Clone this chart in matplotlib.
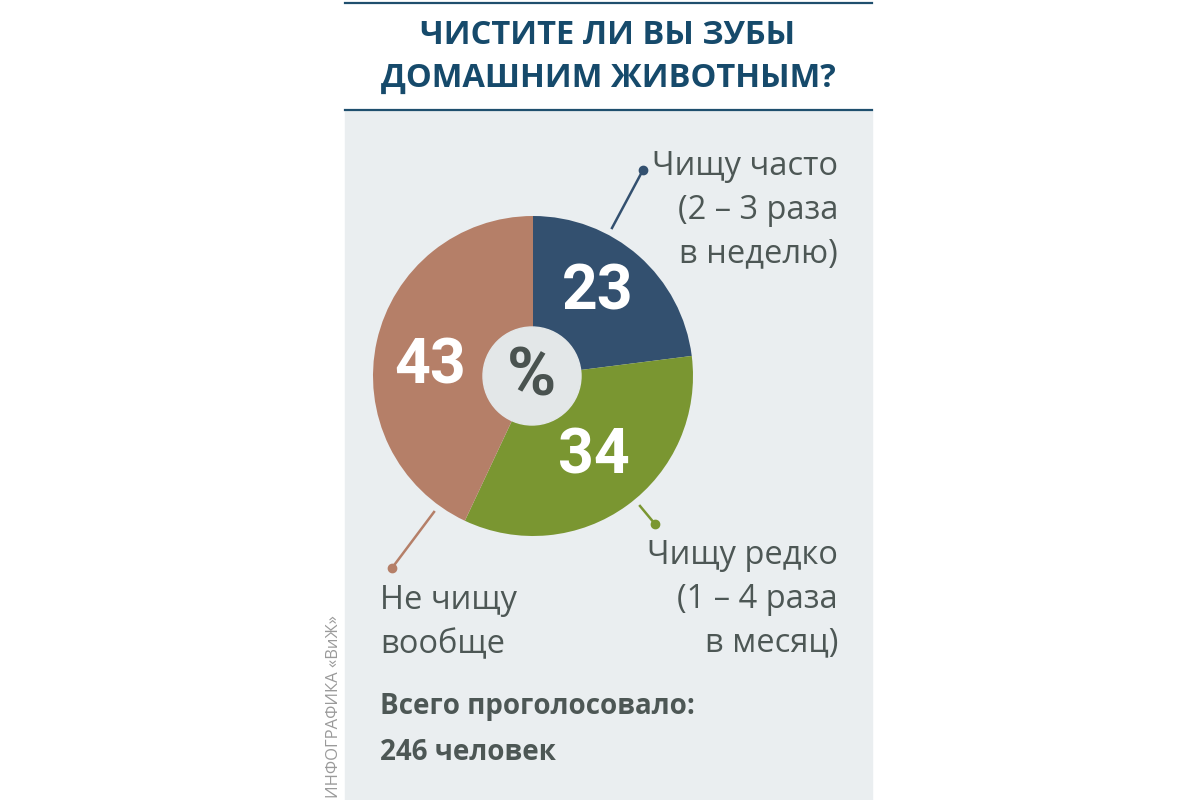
import matplotlib.pyplot as plt
from matplotlib.patches import Rectangle, Circle

# data
shares = [23, 34, 43]
colors = ['#33506f', '#7a9631', '#b57f68']
labels = ['Чищу часто\n(2 – 3 раза\nв неделю)',
          'Чищу редко\n(1 – 4 раза\nв месяц)',
          'Не чищу\nвообще']
title = 'ЧИСТИТЕ ЛИ ВЫ ЗУБЫ\nДОМАШНИМ ЖИВОТНЫМ?'
total_text = 'Всего проголосовало:\n246 человек'
credit = 'ИНФОГРАФИКА «ВиЖ»'

H = 800
fig = plt.figure(figsize=(12, 8), dpi=100)
ax = fig.add_axes([0, 0, 1, 1])
ax.set_xlim(0, 1200)
ax.set_ylim(0, H)
ax.set_aspect('equal')
ax.axis('off')

def Y(y):
    return H - y

# panel and rules
ax.add_patch(Rectangle((345, 0), 527, Y(110), color='#eaeef0', zorder=0))
ax.plot([345, 872], [Y(3), Y(3)], color='#1f4f6e', lw=1.6)
ax.plot([345, 872], [Y(110), Y(110)], color='#1f4f6e', lw=1.6)

ax.text(608, Y(57), title, ha='center', va='center', fontsize=23.5,
        fontweight='bold', color='#164a6b', family='Open Sans',
        linespacing=1.38)

# pie
ax.pie(shares, colors=colors, startangle=90, counterclock=False,
       center=(533, Y(376)), radius=160, frame=True,
       wedgeprops=dict(linewidth=0))
ax.set_xlim(0, 1200)
ax.set_ylim(0, H)
ax.axis('off')

ax.add_patch(Circle((532, Y(376)), 49, color='#e3e7e8', zorder=5))
ax.text(532, Y(377), '%', ha='center', va='center', fontsize=48,
        fontweight='bold', color='#4a5350', family='Roboto', zorder=6)

num_pos = [(598, 292), (594, 457), (430, 367)]
for v, (x, y) in zip(shares, num_pos):
    ax.text(x, Y(y), str(v), ha='center', va='center', fontsize=45,
            fontweight='bold', color='white', family='Roboto', zorder=6)

# leader lines
leaders = [((612, 228), (643, 170)), ((640, 506), (655, 524)),
           ((434, 512), (392, 568))]
for (p0, p1), c in zip(leaders, colors):
    ax.plot([p0[0], p1[0]], [Y(p0[1]), Y(p1[1])], color=c, lw=1.8)
    ax.plot(p1[0], Y(p1[1]), 'o', color=c, ms=6)

txt = dict(fontsize=23.5, color='#4d5755', family='Open Sans', linespacing=1.43)
ax.text(838, Y(150), labels[0], ha='right', va='top', **txt)
ax.text(838, Y(539), labels[1], ha='right', va='top', **txt)
ax.text(380, Y(584), labels[2], ha='left', va='top', **txt)

ax.text(380, Y(692), total_text, ha='left', va='top', fontsize=20,
        fontweight='bold', color='#4d5755', family='Open Sans',
        linespacing=1.75)

ax.text(334, Y(798), credit, ha='center', va='bottom', rotation=90,
        fontsize=12, color='#9a9a9a', family='Open Sans')

fig.savefig('out.png', dpi=100)
